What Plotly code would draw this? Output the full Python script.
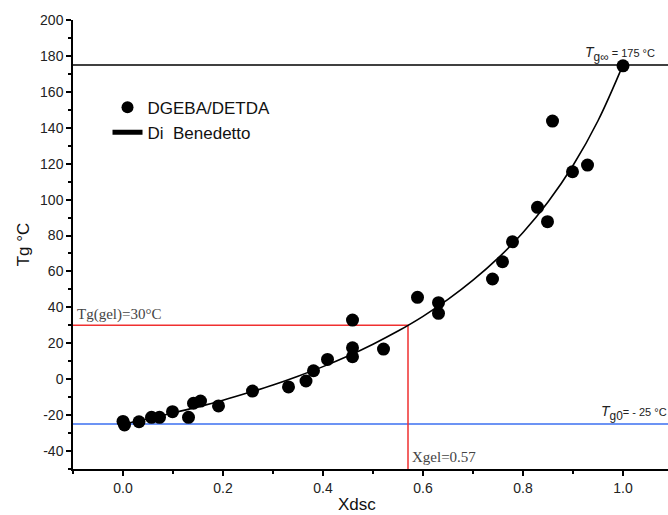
import plotly.graph_objects as go

# ---- data ----
x_data = [0.000, 0.003, 0.032, 0.057, 0.073, 0.099, 0.131, 0.141, 0.155, 0.191,
          0.259, 0.331, 0.366, 0.381, 0.409, 0.459, 0.459, 0.459, 0.521, 0.589,
          0.631, 0.631, 0.739, 0.759, 0.779, 0.829, 0.849, 0.859, 0.899, 0.929, 1.000]
tg_data = [-23.5, -25.5, -23.7, -21.2, -21.2, -18.1, -21.2, -13.4, -12.2, -14.9,
           -6.6, -4.3, -1.0, 4.7, 11.0, 12.5, 17.5, 32.9, 16.8, 45.6,
           36.7, 42.6, 55.8, 65.4, 76.5, 95.7, 87.7, 143.7, 115.5, 119.2, 174.5]

x_fit = [0.00, 0.05, 0.10, 0.15, 0.20, 0.25, 0.30, 0.35, 0.40, 0.45, 0.50,
         0.55, 0.60, 0.65, 0.70, 0.75, 0.80, 0.85, 0.90, 0.95, 1.00]
tg_fit = [-25.0, -22.0, -18.8, -15.4, -11.7, -7.6, -3.2, 1.7, 7.0, 12.9, 19.5,
          26.8, 35.0, 44.4, 55.1, 67.4, 81.7, 98.7, 119.0, 143.9, 175.0]

tg_inf = 175
tg_0 = -25
tg_gel = 30
x_gel = 0.57
x_min, x_max = -0.1, 1.09
y_min, y_max = -50, 200

x_ticks = [0.0, 0.2, 0.4, 0.6, 0.8, 1.0]
x_ticklabels = ["0.0", "0.2", "0.4", "0.6", "0.8", "1.0"]
y_ticks = [-40, -20, 0, 20, 40, 60, 80, 100, 120, 140, 160, 180, 200]
y_ticklabels = ["-40", "-20", "0", "20", "40", "60", "80", "100", "120", "140",
                "160", "180", "200"]

fig = go.Figure()

# reference lines
fig.add_trace(go.Scatter(x=[x_min, x_max], y=[tg_inf, tg_inf], mode="lines",
                         line=dict(color="black", width=1.5), showlegend=False,
                         hoverinfo="skip"))
fig.add_trace(go.Scatter(x=[x_min, x_max], y=[tg_0, tg_0], mode="lines",
                         line=dict(color="#3b6ff0", width=1.5), showlegend=False,
                         hoverinfo="skip"))
fig.add_trace(go.Scatter(x=[x_min, x_gel, x_gel], y=[tg_gel, tg_gel, y_min], mode="lines",
                         line=dict(color="#f03030", width=1.5), showlegend=False,
                         hoverinfo="skip"))

fig.add_trace(go.Scatter(x=x_data, y=tg_data, mode="markers", name="DGEBA/DETDA",
                         marker=dict(color="black", size=13)))
fig.add_trace(go.Scatter(x=x_fit, y=tg_fit, mode="lines", name="Di\u00a0 Benedetto",
                         line=dict(color="black", width=1.6, shape="spline")))

axis_font = dict(family="Liberation Sans, Arial, sans-serif", size=14, color="#222")

fig.update_layout(
    width=668, height=515,
    margin=dict(l=73, r=0, t=20, b=46),
    paper_bgcolor="white", plot_bgcolor="white",
    font=dict(family="Liberation Sans, Arial, sans-serif", color="#111"),
    legend=dict(x=0.058, y=0.845, xanchor="left", yanchor="top",
                bgcolor="rgba(0,0,0,0)", font=dict(size=17, color="#111"),
                itemsizing="constant"),
    xaxis=dict(range=[x_min, x_max], showgrid=False, zeroline=False,
               showline=True, linecolor="black", linewidth=1.5,
               ticks="outside", ticklen=5, tickwidth=1.5, tickcolor="black",
               tickvals=x_ticks, ticktext=x_ticklabels, tickfont=axis_font,
               minor=dict(dtick=0.1, tick0=0.1, ticks="outside", ticklen=3,
                          tickwidth=1.5, tickcolor="black")),
    yaxis=dict(range=[y_min, y_max], showgrid=False, zeroline=False,
               showline=True, linecolor="black", linewidth=1.5,
               ticks="outside", ticklen=5, tickwidth=1.5, tickcolor="black",
               tickvals=y_ticks, ticktext=y_ticklabels, tickfont=axis_font,
               title=dict(text="Tg °C", font=dict(size=17, color="#111"), standoff=6),
               minor=dict(dtick=10, tick0=-50, ticks="outside", ticklen=3,
                          tickwidth=1.5, tickcolor="black")),
)

serif = dict(family="Liberation Serif, Times New Roman, serif", size=15, color="#444")
fig.add_annotation(x=x_min, y=tg_gel, xref="x", yref="y", text="Tg(gel)=30°C",
                   showarrow=False, xanchor="left", yanchor="bottom", xshift=2,
                   font=serif)
fig.add_annotation(x=x_gel, y=y_min, xref="x", yref="y", text="Xgel=0.57",
                   showarrow=False, xanchor="left", yanchor="bottom", xshift=2, yshift=2,
                   font=serif)
small = dict(family="Liberation Sans, Arial, sans-serif", size=11, color="#222")
fig.add_annotation(x=0.92, y=tg_inf, xref="x", yref="y",
                   text="<span style='font-size:14px'><i>T</i></span>"
                        "<span style='font-size:17px'><sub>g∞</sub></span> = 175 °C",
                   showarrow=False, xanchor="left", yanchor="bottom", yshift=-1,
                   font=small)
fig.add_annotation(x=0.952, y=tg_0, xref="x", yref="y",
                   text="<span style='font-size:14px'><i>T</i></span>"
                        "<span style='font-size:17px'><sub>g0</sub></span>= - 25 °C",
                   showarrow=False, xanchor="left", yanchor="bottom", yshift=-1,
                   font=small)
fig.add_annotation(x=0.477, y=0, xref="paper", yref="paper", text="Xdsc",
                   showarrow=False, xanchor="center", yanchor="top", yshift=-24,
                   font=dict(family="Liberation Sans, Arial, sans-serif", size=17, color="#111"))

fig.write_html("out.html")
